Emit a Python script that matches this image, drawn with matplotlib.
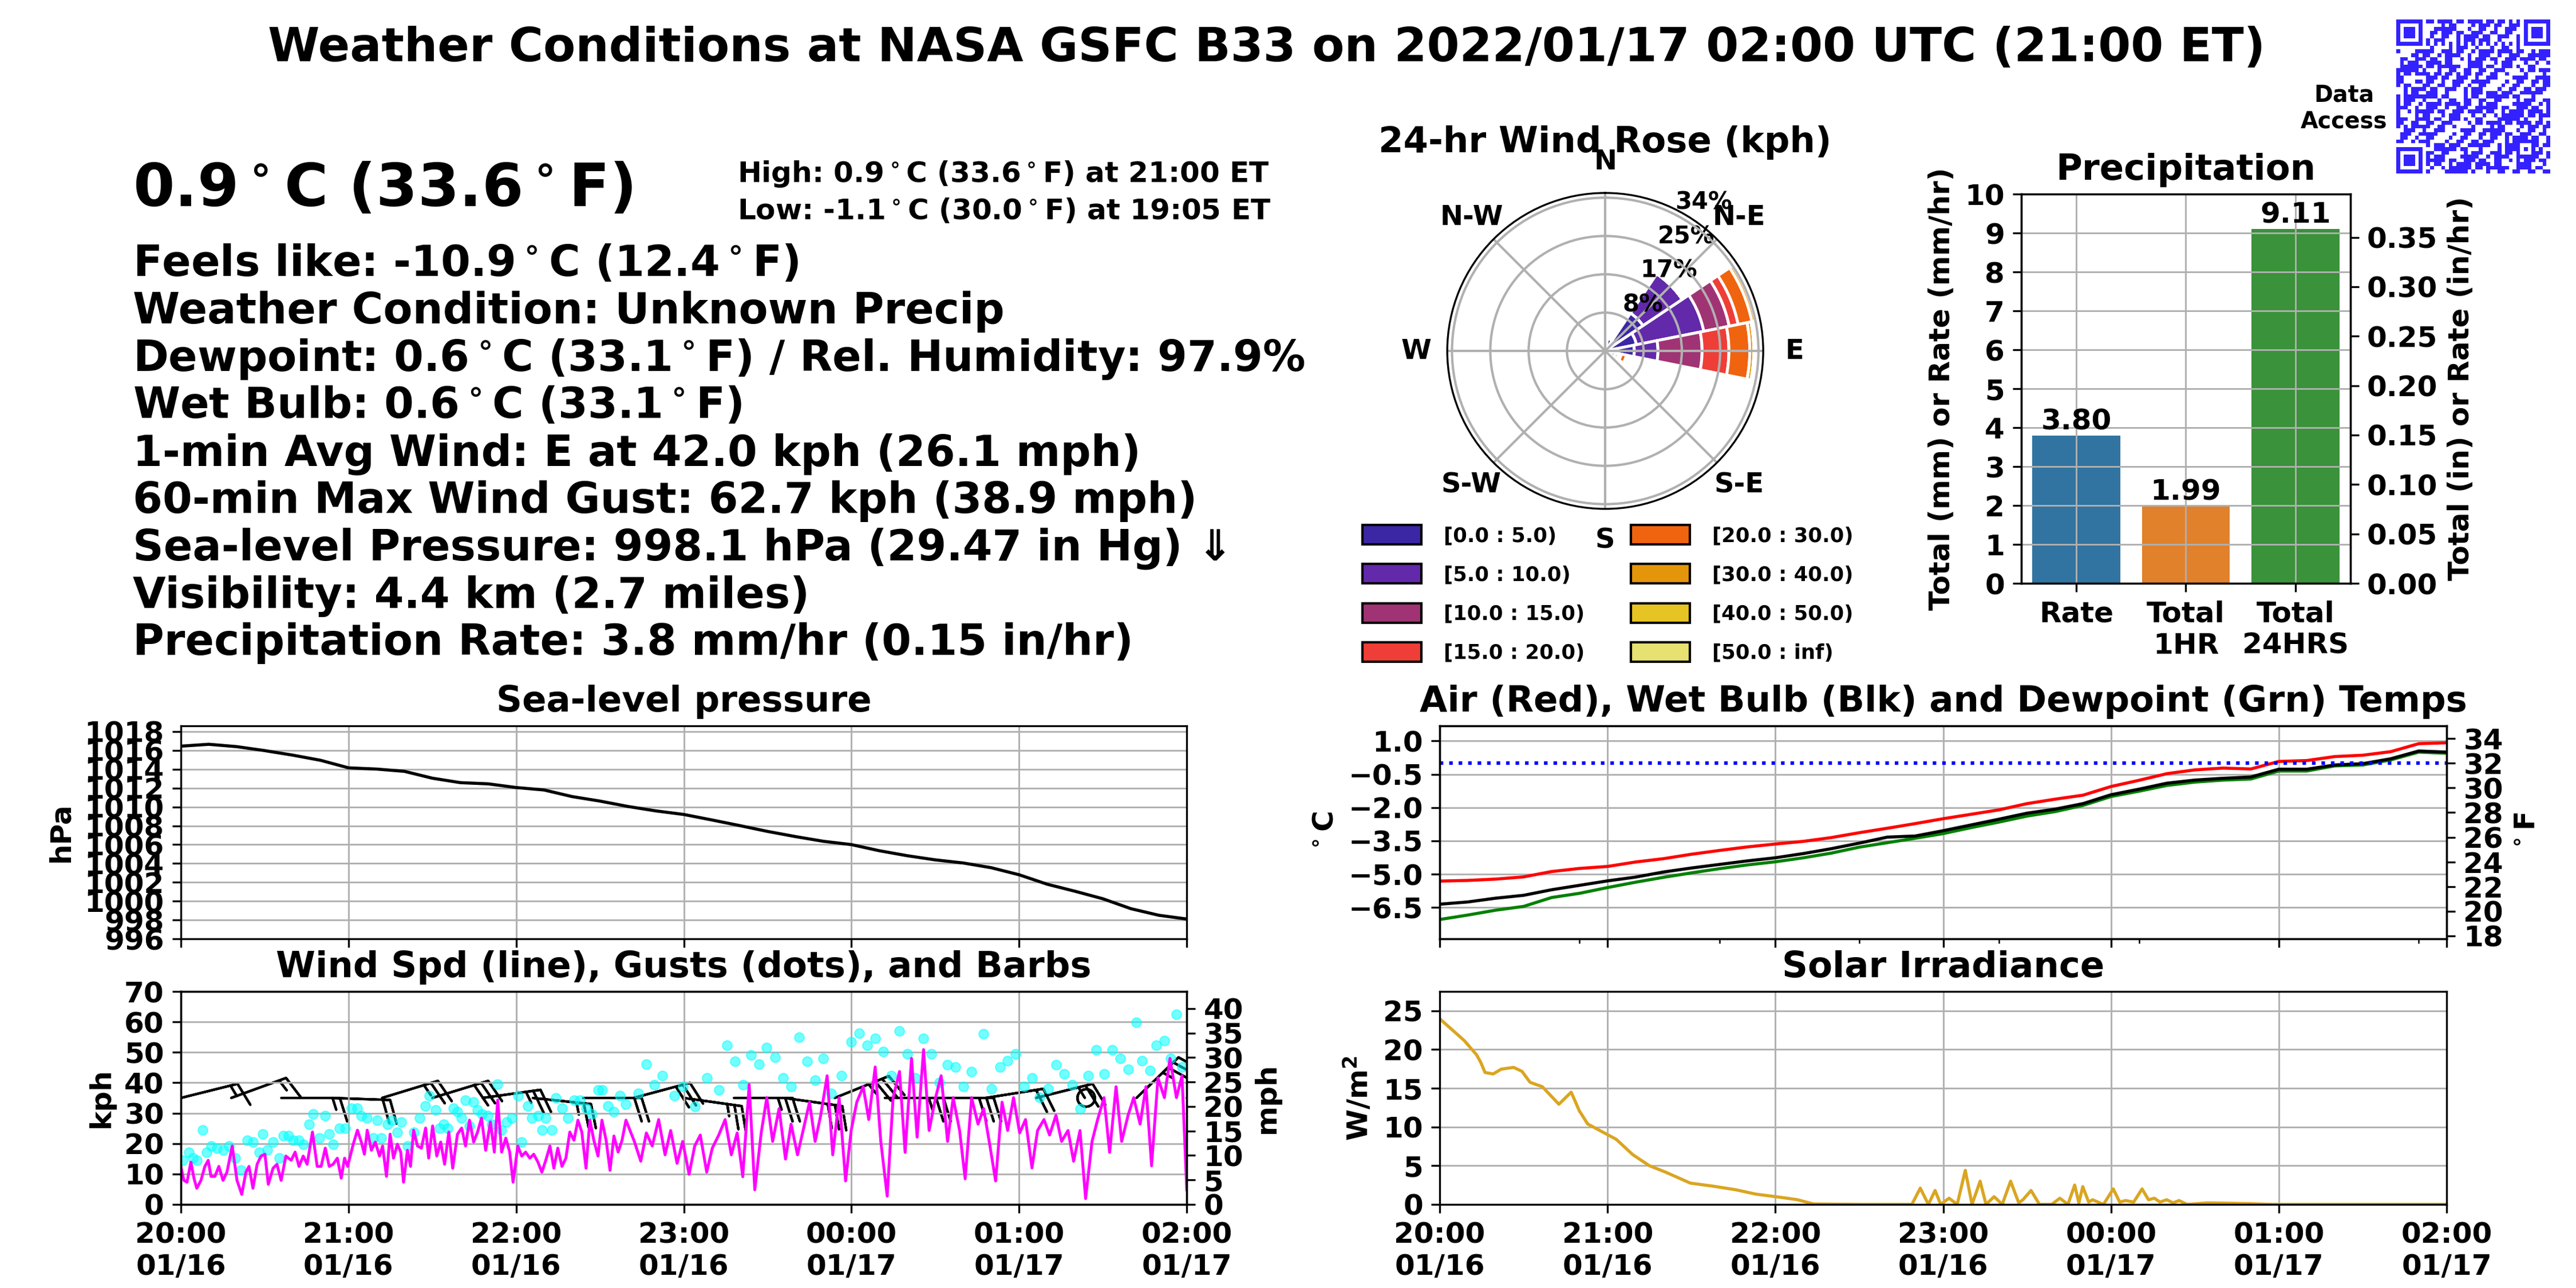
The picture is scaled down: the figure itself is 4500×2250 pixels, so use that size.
import numpy as np
import matplotlib
matplotlib.use('Agg')
import matplotlib.pyplot as plt
import matplotlib.dates as mdates
from matplotlib.colors import ListedColormap
from matplotlib.patches import Patch

plt.rcParams['font.family'] = ['DejaVu Sans']
plt.rcParams['font.weight'] = 'bold'
plt.rcParams['axes.titleweight'] = 'bold'
plt.rcParams['axes.labelweight'] = 'bold'

START = np.datetime64('2022-01-16T20:00')

# ---- current conditions text ----
title_text = 'Weather Conditions at NASA GSFC B33 on 2022/01/17 02:00 UTC (21:00 ET)'
big_temp = r'0.9$^\circ$C (33.6$^\circ$F)'
high_low = [r'High: 0.9$^\circ$C (33.6$^\circ$F) at 21:00 ET',
            r'Low: -1.1$^\circ$C (30.0$^\circ$F) at 19:05 ET']
info_lines = [
    r'Feels like: -10.9$^\circ$C (12.4$^\circ$F)',
    'Weather Condition: Unknown Precip',
    r'Dewpoint: 0.6$^\circ$C (33.1$^\circ$F) / Rel. Humidity: 97.9%',
    r'Wet Bulb: 0.6$^\circ$C (33.1$^\circ$F)',
    '1-min Avg Wind: E at 42.0 kph (26.1 mph)',
    '60-min Max Wind Gust: 62.7 kph (38.9 mph)',
    'Sea-level Pressure: 998.1 hPa (29.47 in Hg) \u21d3',
    'Visibility: 4.4 km (2.7 miles)',
    'Precipitation Rate: 3.8 mm/hr (0.15 in/hr)',
]

# ---- precipitation ----
precip_labels = ['Rate', 'Total\n1HR', 'Total\n24HRS']
precip_mm = [3.80, 1.99, 9.11]
precip_colors = ['#3274a1', '#e1812c', '#3a923a']

# ---- wind rose (percent of time, 16 sectors, stacked by speed bin) ----
rose_dirs = [0, 22.5, 45, 67.5, 90, 112.5, 135, 157.5,
             180, 202.5, 225, 247.5, 270, 292.5, 315, 337.5]
rose_bins = ['[0.0 : 5.0)', '[5.0 : 10.0)', '[10.0 : 15.0)', '[15.0 : 20.0)',
             '[20.0 : 30.0)', '[30.0 : 40.0)', '[40.0 : 50.0)', '[50.0 : inf)']
rose_colors = ['#3b27a3', '#6229ab', '#a03373', '#ee3e37',
               '#f0640f', '#e4950a', '#e6c424', '#e6e170']
rose_pct = [
    [0, 1.2, 10.0, 7.0, 6.4, 1.0, 0, 0, 0, 0, 0, 0, 0, 0, 0, 0],
    [0, 1.6, 10.4, 15.1, 5.2, 1.3, 0, 0, 0, 0, 0, 0, 0, 0, 0, 0],
    [0, 0, 0, 5.7, 9.7, 0.7, 0, 0, 0, 0, 0, 0, 0, 0, 0, 0],
    [0, 0, 0, 2.0, 5.9, 0.6, 0, 0, 0, 0, 0, 0, 0, 0, 0, 0],
    [0, 0, 0, 3.1, 4.6, 1.2, 0, 0, 0, 0, 0, 0, 0, 0, 0, 0],
    [0, 0, 0, 0.8, 0.9, 0, 0, 0, 0, 0, 0, 0, 0, 0, 0, 0],
    [0, 0, 0, 0, 0, 0, 0, 0, 0, 0, 0, 0, 0, 0, 0, 0],
    [0, 0, 0, 0, 0, 0, 0, 0, 0, 0, 0, 0, 0, 0, 0, 0],
]
compass = ['N', 'N-E', 'E', 'S-E', 'S', 'S-W', 'W', 'N-W']

# ---- sea-level pressure (minutes after 20:00 ET, hPa) ----
p_min = [0, 10, 20, 30, 40, 50, 60, 70, 80, 90, 100, 110, 120, 130, 140, 150, 160, 170,
         180, 190, 200, 210, 220, 230, 240, 250, 260, 270, 280, 290, 300, 310, 320, 330,
         340, 350, 360]
p_hpa = [1016.45, 1016.65, 1016.40, 1015.98, 1015.50, 1014.95, 1014.15, 1014.02, 1013.78,
         1013.05, 1012.58, 1012.45, 1012.06, 1011.80, 1011.10, 1010.62, 1010.05, 1009.58,
         1009.20, 1008.62, 1008.02, 1007.40, 1006.85, 1006.35, 1006.00, 1005.35, 1004.82,
         1004.38, 1004.05, 1003.55, 1002.80, 1001.80, 1001.05, 1000.25, 999.20, 998.50,
         998.10]

# ---- temperatures (deg C) ----
t_min = p_min
air_c = [-5.31, -5.28, -5.22, -5.12, -4.88, -4.74, -4.65, -4.45, -4.30, -4.10, -3.93, -3.77,
         -3.64, -3.52, -3.35, -3.13, -2.93, -2.72, -2.50, -2.30, -2.10, -1.82, -1.62, -1.44,
         -1.05, -0.77, -0.47, -0.30, -0.22, -0.26, 0.08, 0.12, 0.30, 0.36, 0.52, 0.88, 0.92]
wetbulb_c = [-6.35, -6.25, -6.08, -5.95, -5.70, -5.50, -5.30, -5.13, -4.90, -4.72, -4.56,
             -4.40, -4.26, -4.07, -3.85, -3.60, -3.33, -3.28, -3.04, -2.78, -2.52, -2.25,
             -2.07, -1.82, -1.42, -1.17, -0.90, -0.76, -0.68, -0.62, -0.27, -0.27, -0.08,
             -0.02, 0.20, 0.55, 0.50]
dewpt_c = [-7.04, -6.84, -6.62, -6.45, -6.05, -5.86, -5.60, -5.36, -5.14, -4.94, -4.75,
           -4.58, -4.44, -4.26, -4.05, -3.78, -3.58, -3.38, -3.17, -2.90, -2.65, -2.38,
           -2.18, -1.90, -1.50, -1.26, -1.00, -0.85, -0.76, -0.71, -0.35, -0.35, -0.12,
           -0.08, 0.15, 0.50, 0.45]

# ---- 1-min wind speed (kph) ----
wind_min = [0, 1.1, 2.2, 3.6, 4.7, 5.7, 7.2, 8.6, 9.8, 10.8, 12.2, 13.6, 15.1, 16.5, 18.4,
            20.1, 21.8, 23.3, 24.4, 25.8, 27.3, 28.7, 30.1, 31.3, 33.0, 34.4, 35.9, 37.6,
            39.5, 40.9, 42.3, 43.8, 45.2, 47.1, 48.8, 50.2, 51.7, 53.1, 54.5, 56.0, 57.4,
            58.6, 59.7, 61.7, 63.2, 64.6, 65.7, 66.7, 68.2, 69.6, 71.1, 72.2, 73.6, 74.9,
            76.1, 77.5, 78.7, 79.7, 81.1, 82.2, 83.3, 84.7, 86.1, 87.6, 88.7, 90.1, 91.6,
            93.0, 94.4, 95.9, 97.3, 99.0, 100.5, 101.9, 103.3, 104.8, 106.2, 107.6, 109.1,
            110.8, 112.2, 113.4, 114.8, 116.3, 117.7, 118.9, 120.6, 122.0, 123.4, 124.9,
            126.3, 127.8, 129.2, 130.6, 132.1, 133.5, 134.9, 136.4, 137.8, 139.2, 140.7,
            142.1, 143.5, 145.0, 146.4, 147.8, 149.3, 150.7, 152.2, 153.6, 155.0, 156.5,
            157.9, 159.3, 162.3, 164.6, 166.6, 168.7, 171.0, 173.3, 175.3, 177.6, 179.6,
            181.9, 183.9, 185.9, 188.2, 190.2, 192.5, 194.8, 197.0, 199.1, 201.1, 203.4,
            205.4, 207.7, 209.7, 211.8, 214.1, 216.4, 218.4, 220.7, 222.7, 225.0, 227.0,
            229.0, 231.3, 233.3, 235.6, 237.9, 239.9, 241.9, 244.2, 246.2, 248.5, 250.5,
            252.8, 254.9, 257.2, 259.2, 261.5, 263.5, 265.8, 267.8, 270.1, 272.1, 274.4,
            276.4, 278.7, 280.7, 283.0, 285.3, 287.3, 289.3, 291.6, 293.9, 295.9, 298.0,
            300.2, 302.3, 304.6, 306.6, 308.9, 310.9, 313.2, 315.2, 317.5, 319.5, 321.8,
            323.8, 326.1, 328.1, 330.4, 332.4, 334.7, 336.7, 339.0, 341.0, 343.3, 345.4,
            347.4, 349.7, 352.0, 354.0, 356.3, 358.3, 360.0]
wind_kph = [12.5, 7.9, 7.3, 13.9, 8.6, 5.3, 7.9, 12.5, 14.5, 9.2, 9.2, 12.5, 7.9, 10.6,
            19.2, 7.9, 3.3, 10.6, 12.5, 5.3, 13.2, 15.9, 16.5, 6.6, 11.9, 13.2, 7.9, 15.9,
            14.5, 17.2, 12.5, 15.9, 13.2, 23.8, 12.5, 12.5, 18.5, 12.5, 13.2, 15.2, 8.6,
            15.2, 12.5, 19.8, 24.4, 20.5, 16.5, 24.4, 17.8, 20.5, 15.9, 19.2, 9.2, 23.1,
            15.2, 19.8, 17.2, 7.3, 17.8, 12.5, 24.4, 19.2, 18.5, 25.1, 15.2, 25.8, 15.9,
            20.5, 13.2, 23.8, 11.9, 23.1, 25.1, 19.2, 27.7, 20.5, 23.8, 28.4, 17.8, 27.1,
            17.2, 34.3, 17.2, 21.8, 17.2, 7.3, 19.2, 15.9, 17.2, 15.2, 16.5, 13.9, 10.6,
            14.5, 19.2, 11.9, 18.5, 12.5, 15.2, 23.8, 21.1, 27.7, 23.8, 11.9, 27.7, 21.1,
            15.9, 27.7, 21.1, 11.2, 22.5, 17.2, 21.1, 27.7, 20.7, 14.2, 23.5, 19.2, 27.9,
            16.3, 24.3, 13.5, 20.7, 9.9, 19.2, 22.8, 10.6, 18.5, 22.8, 27.9, 16.3, 23.5,
            9.1, 39.4, 4.8, 23.5, 35.1, 20.7, 31.5, 14.9, 26.4, 16.3, 24.3, 33.6, 20.7,
            29.3, 42.3, 16.3, 35.1, 7.7, 24.3, 33.6, 38.7, 27.9, 45.2, 20.7, 2.7, 35.1,
            43.7, 17.1, 48.0, 22.1, 50.9, 24.3, 35.1, 42.3, 20.7, 35.1, 24.3, 8.4, 35.1,
            26.4, 31.5, 20.7, 7.7, 33.6, 24.3, 35.1, 23.5, 27.9, 12.0, 24.3, 27.9, 22.8,
            29.3, 20.7, 24.3, 14.2, 24.3, 1.9, 20.7, 27.9, 35.1, 17.1, 38.7, 20.7, 29.3,
            35.1, 26.4, 38.7, 12.7, 41.6, 35.1, 48.0, 35.1, 42.3, 4.8]

# ---- wind gusts (kph) ----
gust_min = [0.7, 2.9, 4.3, 5.7, 7.9, 9.3, 10.8, 12.9, 15.1, 17.2, 19.4, 21.5, 23.7, 25.8,
            28.0, 29.4, 30.9, 33.0, 35.2, 36.6, 38.5, 40.2, 42.3, 43.8, 45.9, 47.4, 49.5,
            51.7, 53.1, 54.5, 56.7, 58.9, 61.0, 63.2, 64.6, 66.7, 68.9, 70.3, 71.8, 73.9,
            75.4, 77.5, 78.9, 81.1, 83.3, 85.4, 87.6, 89.0, 91.1, 92.6, 94.0, 95.5, 97.6,
            99.0, 100.5, 101.9, 103.3, 104.8, 106.2, 107.7, 109.8, 111.2, 113.4, 114.8,
            116.6, 118.4, 120.6, 122.0, 124.2, 125.6, 127.8, 129.2, 130.6, 132.8, 134.2,
            136.4, 138.5, 140.7, 142.8, 145.0, 147.1, 149.3, 150.7, 152.9, 155.0, 157.2,
            159.3, 163.8, 166.6, 169.5, 172.4, 176.7, 179.6, 183.9, 188.2, 192.5, 195.4,
            198.3, 201.1, 204.0, 206.9, 209.7, 212.6, 215.5, 218.4, 221.2, 224.1, 227.0,
            229.9, 232.7, 236.5, 239.9, 242.8, 245.7, 248.5, 251.4, 254.3, 257.2, 260.0,
            262.9, 265.8, 268.6, 271.5, 274.4, 277.3, 280.1, 283.0, 287.3, 290.2, 293.1,
            295.9, 298.8, 301.7, 304.6, 307.4, 310.3, 313.2, 316.1, 318.9, 321.8, 324.7,
            327.5, 330.4, 333.3, 336.2, 339.0, 341.9, 343.9, 346.8, 349.1, 352.0, 354.3,
            356.3, 358.3]
gust_kph = [14.5, 17.2, 15.2, 14.5, 24.4, 17.2, 19.2, 18.5, 17.8, 19.2, 15.2, 11.2, 21.1,
            20.5, 17.2, 23.1, 17.8, 20.5, 15.2, 22.5, 22.5, 21.1, 21.1, 19.8, 26.4, 29.7,
            21.8, 29.1, 23.1, 19.8, 25.1, 25.1, 31.7, 31.7, 29.1, 28.4, 21.8, 27.7, 21.8,
            26.4, 27.7, 23.8, 27.1, 19.2, 23.8, 28.4, 32.4, 35.7, 31.0, 25.1, 26.4, 25.1,
            31.7, 30.4, 28.4, 34.3, 25.8, 33.7, 31.0, 29.7, 29.1, 26.4, 39.6, 24.4, 27.1,
            28.4, 35.7, 20.5, 32.4, 28.4, 29.1, 24.4, 28.4, 24.4, 35.0, 31.7, 28.4, 34.3,
            34.3, 31.7, 29.7, 37.6, 37.6, 32.4, 30.4, 35.7, 33.0, 36.5, 46.2, 39.4, 42.3,
            35.8, 38.7, 32.2, 41.6, 37.6, 52.4, 47.0, 39.4, 49.1, 46.2, 51.6, 48.4, 41.6,
            38.7, 54.9, 47.0, 40.8, 48.0, 36.5, 42.3, 53.4, 56.3, 52.4, 54.5, 50.2, 42.3,
            57.0, 49.5, 41.6, 54.5, 49.5, 40.1, 45.9, 45.2, 38.7, 43.7, 56.0, 38.0, 45.2,
            47.3, 49.5, 38.7, 41.6, 35.1, 38.0, 45.9, 43.0, 39.4, 31.5, 42.3, 50.9, 43.0,
            50.9, 48.0, 44.4, 59.9, 47.3, 44.1, 52.4, 53.8, 48.0, 62.4, 45.2]

# ---- wind barbs every 18 min (speed kph, direction wind blows from, deg) ----
barb_min = [0, 18, 36, 54, 72, 90, 108, 126, 144, 162, 180, 198, 216, 234, 252, 270, 288,
            306, 324, 342, 360]
barb_kph = [15, 15, 15, 20, 25, 30, 25, 25, 20, 30, 25, 25, 30, 35, 25, 30, 20, 25, 2, 35,
            42]
barb_dir = [76, 70, 90, 92, 73, 73, 82, 96, 90, 75, 98, 90, 98, 68, 90, 90, 81, 76, 90, 46,
            50]

# ---- solar irradiance (W/m^2) ----
solar_min = [0, 4.4, 8.8, 13.2, 14.7, 16.2, 19.1, 22.0, 26.4, 29.4, 32.3, 36.7, 42.6, 47.0,
             49.9, 52.9, 58.7, 63.1, 69.0, 74.9, 80.8, 89.6, 98.4, 105.7, 113.0, 121.9,
             127.7, 133.6, 151.2, 168.8, 171.8, 174.7, 177.1, 179.1, 182.1, 185.0, 187.9,
             190.3, 193.2, 195.3, 198.2, 201.1, 204.1, 207.0, 208.5, 211.4, 214.4, 218.8,
             221.7, 224.6, 227.0, 228.5, 229.9, 232.0, 233.4, 237.3, 240.8, 243.1, 245.2,
             248.1, 251.1, 253.4, 255.5, 257.5, 259.9, 262.2, 264.3, 267.2, 274.6, 289.2,
             298.0, 360.0]
solar_wm2 = [23.98, 22.57, 21.15, 19.31, 18.32, 17.04, 16.85, 17.47, 17.70, 17.19, 15.77,
             15.20, 12.94, 14.50, 12.09, 10.39, 9.26, 8.41, 6.43, 5.01, 4.16, 2.75, 2.32,
             1.90, 1.33, 0.91, 0.62, 0.06, 0.0, 0.0, 2.1, 0.0, 1.8, 0.0, 0.8, 0.0, 4.4, 0.0,
             3.0, 0.0, 1.0, 0.0, 3.0, 0.2, 0.6, 1.8, 0.0, 0.0, 0.8, 0.0, 2.5, 0.2, 2.3, 0.3,
             0.6, 0.0, 2.0, 0.3, 0.5, 0.3, 2.0, 0.6, 0.8, 0.3, 0.6, 0.2, 0.5, 0.0, 0.2, 0.1,
             0.0, 0.0]

GRID = dict(color='#b0b0b0', lw=0.7)
TICK_FS = 12


def to_time(minutes):
    secs = np.round(np.asarray(minutes, dtype=float) * 60).astype(int)
    return mdates.date2num(START + secs.astype('timedelta64[s]'))


def time_axis(ax, labels=True):
    ax.set_xlim(to_time([0, 360]))
    ax.xaxis.set_major_locator(mdates.HourLocator())
    ax.xaxis.set_major_formatter(mdates.DateFormatter('%H:%M\n%m/%d'))
    ax.tick_params(labelsize=TICK_FS, labelbottom=labels)
    ax.grid(True, **GRID)


fig = plt.figure(figsize=(15, 7.5), dpi=300)

# ---------- header text ----------
fig.text(0.4918, 0.9524, title_text, fontsize=19.7, ha='center', va='baseline')
fig.text(0.0516, 0.84, big_temp, fontsize=25, va='baseline')
fig.text(0.2862, 0.8587, high_low[0], fontsize=12, va='baseline')
fig.text(0.2862, 0.8298, high_low[1], fontsize=12, va='baseline')
for i, line in enumerate(info_lines):
    fig.text(0.0516, 1 - (482 + 82.8 * i) / 2250, line, fontsize=17.9, va='baseline')
fig.text(0.91, 0.9156, 'Data\nAccess', fontsize=9.5, ha='center', va='center',
         multialignment='center')

# ---------- QR code (decorative pattern) ----------
n = 41
bits = np.unpackbits(np.frombuffer(
    b'https://science.gsfc.nasa.gov/weather/b33/data-access?station=GSFC-B33' * 24,
    dtype=np.uint8))[:n * n].reshape(n, n)
ii, jj = np.indices((n, n))
qr = bits ^ ((ii + jj) % 2 == 0)
for r0, c0 in [(0, 0), (0, n - 7), (n - 7, 0)]:
    qr[max(r0 - 1, 0):r0 + 8, max(c0 - 1, 0):c0 + 8] = 0
    qr[r0:r0 + 7, c0:c0 + 7] = 1
    qr[r0 + 1:r0 + 6, c0 + 1:c0 + 6] = 0
    qr[r0 + 2:r0 + 5, c0 + 2:c0 + 5] = 1
qr[6, 8:n - 8] = (np.arange(8, n - 8) + 1) % 2
qr[8:n - 8, 6] = (np.arange(8, n - 8) + 1) % 2
qr[32:37, 32:37] = 1
qr[33:36, 33:36] = 0
qr[34, 34] = 1
ax_qr = fig.add_axes([4185 / 4500, 1 - 303 / 2250, 270 / 4500, 269 / 2250])
ax_qr.imshow(qr, cmap=ListedColormap(['white', '#3322ff']), interpolation='nearest')
ax_qr.axis('off')

# ---------- wind rose ----------
ax_r = fig.add_axes([0.5618, 0.6049, 0.1227, 0.2453], projection='polar')
ax_r.set_theta_zero_location('N')
ax_r.set_theta_direction(-1)
theta = np.deg2rad(rose_dirs)
bottom = np.zeros(len(rose_dirs))
for vals, col in zip(rose_pct, rose_colors):
    vals = np.array(vals)
    ax_r.bar(theta, vals, width=np.deg2rad(22.5), bottom=bottom, color=col,
             edgecolor='white', lw=1.2)
    bottom = bottom + vals
rmax = bottom.max()
rings = rmax * np.array([0.25, 0.5, 0.75, 1.0])
ax_r.set_rgrids(rings, ['%d%%' % round(r) for r in rings], angle=27, fontsize=10)
ax_r.set_ylim(0, rmax * 1.031)
ax_r.set_thetagrids(np.arange(0, 360, 45), compass, fontsize=11.5)
ax_r.tick_params(axis='x', pad=2.6)
ax_r.grid(True, color='#b0b0b0', lw=1.0)
ax_r.set_title('24-hr Wind Rose (kph)', fontsize=15, y=1.0, pad=17)
handles = [Patch(facecolor=c, edgecolor='black', lw=1.0) for c in rose_colors]
fig.legend(handles, rose_bins, ncol=2, loc='upper left',
           bbox_to_anchor=(2380 / 4500, 1 - 917 / 2250), frameon=False, fontsize=8.5,
           handlelength=2.9, handleheight=1.1, handletextpad=1.1, columnspacing=2.3,
           labelspacing=0.91, borderpad=0, borderaxespad=0)

# ---------- precipitation ----------
ax_b = fig.add_axes([0.7847, 0.5471, 0.1277, 0.3022])
xpos = np.arange(len(precip_mm))
ax_b.bar(xpos, precip_mm, width=0.8, color=precip_colors)
for x, v in zip(xpos, precip_mm):
    ax_b.text(x, v, '%.2f' % v, ha='center', va='bottom', fontsize=TICK_FS)
ax_b.set_xlim(-0.5, 2.5)
ax_b.set_ylim(0, 10)
ax_b.set_yticks(np.arange(0, 11, 1))
ax_b.set_xticks(xpos)
ax_b.set_xticklabels(precip_labels)
ax_b.tick_params(labelsize=TICK_FS)
ax_b.grid(True, **GRID)
ax_b.set_title('Precipitation', fontsize=15)
ax_b.set_ylabel('Total (mm) or Rate (mm/hr)', fontsize=TICK_FS)
ax_b2 = ax_b.twinx()
ax_b2.set_ylim(0, 10 / 25.4)
ax_b2.set_yticks(np.arange(0, 0.36, 0.05))
ax_b2.yaxis.set_major_formatter(plt.FormatStrFormatter('%.2f'))
ax_b2.tick_params(labelsize=TICK_FS)
ax_b2.set_ylabel('Total (in) or Rate (in/hr)', fontsize=TICK_FS)

# ---------- sea-level pressure ----------
ax_p = fig.add_axes([0.0702, 0.2711, 0.3905, 0.1653])
ax_p.plot(to_time(p_min), p_hpa, color='black', lw=1.3)
ax_p.set_ylim(996, 1018.6)
ax_p.set_yticks(np.arange(996, 1019, 2))
time_axis(ax_p, labels=False)
ax_p.set_title('Sea-level pressure', fontsize=15)
ax_p.set_ylabel('hPa', fontsize=TICK_FS)

# ---------- wind ----------
ax_w = fig.add_axes([0.0702, 0.0649, 0.3905, 0.1653])
ax_w.plot(to_time(gust_min), gust_kph, 'o', color='cyan', alpha=0.55, ms=4, mew=0.5)
ax_w.plot(to_time(wind_min), wind_kph, color='magenta', lw=1.2)
bd = np.deg2rad(barb_dir)
bs = np.array(barb_kph, dtype=float)
ax_w.barbs(to_time(barb_min), np.full(len(barb_min), 35.0), -bs * np.sin(bd),
           -bs * np.cos(bd), length=7, lw=1.0, color='black')
ax_w.set_ylim(0, 70)
ax_w.set_yticks(np.arange(0, 71, 10))
time_axis(ax_w)
ax_w.set_title('Wind Spd (line), Gusts (dots), and Barbs', fontsize=15)
ax_w.set_ylabel('kph', fontsize=TICK_FS)
ax_w2 = ax_w.twinx()
ax_w2.set_ylim(0, 70 / 1.609344)
ax_w2.set_yticks(np.arange(0, 41, 5))
ax_w2.tick_params(labelsize=TICK_FS)
ax_w2.set_ylabel('mph', fontsize=TICK_FS)

# ---------- temperatures ----------
ax_t = fig.add_axes([0.5589, 0.2711, 0.3909, 0.1653])
ax_t.plot(to_time(t_min), air_c, color='red', lw=1.3)
ax_t.plot(to_time(t_min), dewpt_c, color='green', lw=1.3)
ax_t.plot(to_time(t_min), wetbulb_c, color='black', lw=1.3)
ax_t.axhline(0, color='blue', ls=':', lw=1.5)
ax_t.set_ylim(-7.91, 1.68)
ax_t.set_yticks([1.0, -0.5, -2.0, -3.5, -5.0, -6.5])
time_axis(ax_t, labels=False)
ax_t.set_xticks(to_time([50, 100, 150, 200, 250, 300, 350]), minor=True)
ax_t.set_title('Air (Red), Wet Bulb (Blk) and Dewpoint (Grn) Temps', fontsize=15)
ax_t.set_ylabel(r'$^\circ$C', fontsize=TICK_FS)
ax_t2 = ax_t.twinx()
ax_t2.set_ylim(-7.91 * 9 / 5 + 32, 1.68 * 9 / 5 + 32)
ax_t2.set_yticks(np.arange(18, 35, 2))
ax_t2.tick_params(labelsize=TICK_FS)
ax_t2.set_ylabel(r'$^\circ$F', fontsize=TICK_FS)

# ---------- solar ----------
ax_s = fig.add_axes([0.5589, 0.0649, 0.3909, 0.1653])
ax_s.plot(to_time(solar_min), solar_wm2, color='goldenrod', lw=1.3)
ax_s.set_ylim(0, 27.5)
ax_s.set_yticks(np.arange(0, 26, 5))
time_axis(ax_s)
ax_s.set_title('Solar Irradiance', fontsize=15)
ax_s.set_ylabel(r'W/m$^2$', fontsize=TICK_FS)

fig.savefig('out.png', dpi=300)
